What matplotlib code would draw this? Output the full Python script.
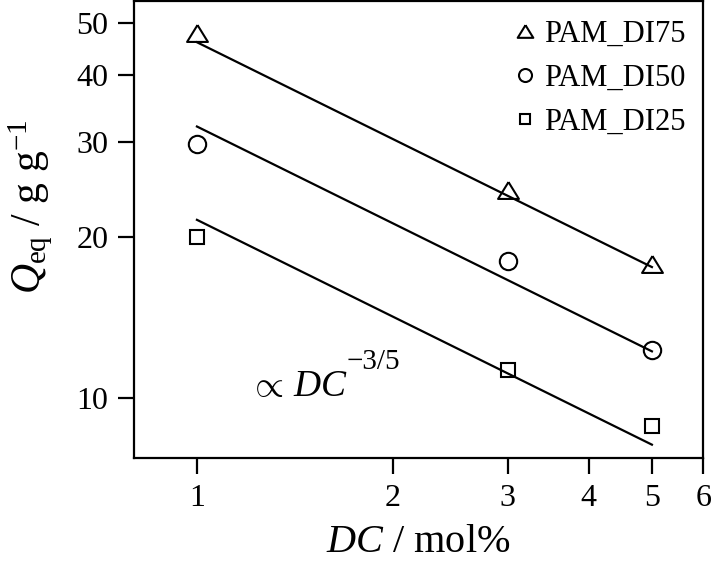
import numpy as np
import matplotlib
matplotlib.use("Agg")
import matplotlib.pyplot as plt
from matplotlib.ticker import FixedLocator, FixedFormatter, NullLocator

plt.rcParams["font.family"] = ["Liberation Serif", "DejaVu Serif"]
plt.rcParams["mathtext.fontset"] = "custom"
plt.rcParams["mathtext.rm"] = "Liberation Serif"
plt.rcParams["mathtext.it"] = "Liberation Serif:italic"

# data
dc = [1, 3, 5]
q_di75 = [48.0, 24.4, 17.75]
q_di50 = [29.8, 18.0, 12.3]
q_di25 = [20.0, 11.3, 8.85]
# prefactors of the DC^-3/5 guide lines (value at DC = 1)
line_a = [46.1, 32.1, 21.5]
slope = -3 / 5

labels = ["PAM_DI75", "PAM_DI50", "PAM_DI25"]
x_ticks = [1, 2, 3, 4, 5, 6]
y_ticks = [10, 20, 30, 40, 50]

# wide triangle marker
tri = [(0, 0.81), (-1, -0.81), (1, -0.81), (0, 0.81)]
markers = [tri, "o", "s"]
msizes = [15, 12.5, 10.5]

fig = plt.figure(figsize=(7.12, 5.63), dpi=100)
ax = fig.add_axes([0.188, 0.1865, 0.800, 0.8115])

xs = np.array(dc, dtype=float)
for q, a, lab, m, ms in zip([q_di75, q_di50, q_di25], line_a, labels,
                            markers, msizes):
    ax.plot(dc, q, linestyle="none", marker=m, markersize=ms,
            markerfacecolor="none", markeredgecolor="black",
            markeredgewidth=1.5, label=lab)
    ax.plot([xs[0], xs[-1]], a * np.array([xs[0], xs[-1]]) ** slope,
            color="black", lw=1.6)

ax.set_xscale("log")
ax.set_yscale("log")
ax.set_xlim(0.8, 6.0)
ax.set_ylim(7.73, 55)

ax.xaxis.set_major_locator(FixedLocator(x_ticks))
ax.xaxis.set_major_formatter(FixedFormatter([str(t) for t in x_ticks]))
ax.xaxis.set_minor_locator(NullLocator())
ax.yaxis.set_major_locator(FixedLocator(y_ticks))
ax.yaxis.set_major_formatter(FixedFormatter([str(t) for t in y_ticks]))
ax.yaxis.set_minor_locator(NullLocator())

ax.tick_params(direction="out", length=11.5, width=1.6, labelsize=23, pad=7)
for s in ax.spines.values():
    s.set_linewidth(1.6)

ax.set_xlabel(r"$DC$ / mol%", fontsize=29)
ax.xaxis.set_label_coords(0.5, -0.145)
ax.set_ylabel(r"$Q_{\mathrm{eq}}$ / g g$^{\mathrm{-1}}$", fontsize=30)
ax.yaxis.set_label_coords(-0.138, 0.55)

ax.text(0.203, 0.135, r"$\propto\, DC$", transform=ax.transAxes,
        fontsize=27, va="baseline", ha="left")
ax.text(0.374, 0.195, "\u22123/5", transform=ax.transAxes,
        fontsize=21, va="baseline", ha="left")

ax.legend(loc="upper right", frameon=False, fontsize=22, markerscale=0.75,
          handlelength=0.8, handletextpad=0.2, labelspacing=0.5,
          borderaxespad=0.2)

fig.savefig("out.png", dpi=100)
